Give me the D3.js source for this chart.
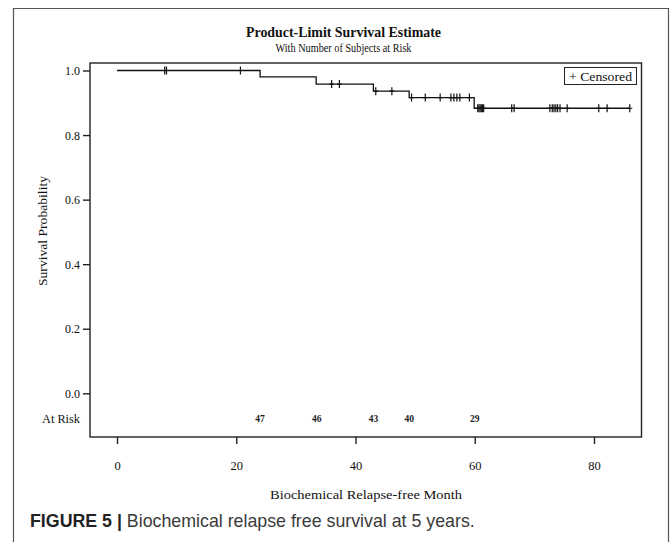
<!DOCTYPE html>
<html>
<head>
<meta charset="utf-8">
<script src="https://cdn.jsdelivr.net/npm/d3@7"></script>
<style>
  body { margin: 0; background: #fff; }
  svg { display: block; }
</style>
</head>
<body>
<div id="chart"></div>
<script>
// Kaplan-Meier steps
const stepTimes = [0, 24.0, 33.4, 43.0, 49.0, 59.9];
const stepSurv = [1.0, 0.980, 0.958, 0.936, 0.916, 0.883];
const lastTime = 86.0;

// censored observations (months)
const censorTimes = [8.0, 8.3, 20.7, 36.0, 37.3, 43.4, 46.1, 49.4, 51.7, 54.2,
  56.0, 56.5, 57.0, 57.5, 59.1, 60.5, 60.7, 60.9, 61.1, 61.3, 61.5,
  66.2, 66.6, 72.6, 73.0, 73.3, 73.6, 73.9, 74.3, 75.5, 80.8, 82.2, 86.0];

// number at risk
const riskTimes = [24, 33.5, 43, 49, 60];
const riskCounts = [47, 46, 43, 40, 29];

const xTicks = [0, 20, 40, 60, 80];
const yTicks = [0, 0.2, 0.4, 0.6, 0.8, 1.0];

const width = 672;
const height = 542;
const serif = '"Liberation Serif", "DejaVu Serif", serif';
const sans = '"Liberation Sans", Arial, sans-serif';

const frame = { l: 90, r: 641.5, t: 63, b: 437 };

const x = d3.scaleLinear().domain([0, 80]).range([117, 594]);
const y = d3.scaleLinear().domain([0, 1]).range([393.3, 70.5]);

const svg = d3.select('#chart').append('svg')
  .attr('width', width)
  .attr('height', height)
  .attr('viewBox', [0, 0, width, height]);

// outer figure border
svg.append('path')
  .attr('d', `M13.5,${height} V8.5 H668.5 V${height}`)
  .attr('fill', 'none')
  .attr('stroke', '#555')
  .attr('stroke-width', 1.2);

// titles (SAS fonts are narrow, so squeeze to the measured widths)
svg.append('text')
  .attr('x', 343.5).attr('y', 37)
  .attr('text-anchor', 'middle')
  .attr('font-family', serif)
  .attr('font-size', 14)
  .attr('font-weight', 'bold')
  .attr('fill', '#111')
  .attr('textLength', 195)
  .attr('lengthAdjust', 'spacingAndGlyphs')
  .text('Product-Limit Survival Estimate');

svg.append('text')
  .attr('x', 343.5).attr('y', 52)
  .attr('text-anchor', 'middle')
  .attr('font-family', serif)
  .attr('font-size', 12.5)
  .attr('fill', '#111')
  .attr('textLength', 136)
  .attr('lengthAdjust', 'spacingAndGlyphs')
  .text('With Number of Subjects at Risk');

// plot frame
svg.append('rect')
  .attr('x', frame.l).attr('y', frame.t)
  .attr('width', frame.r - frame.l)
  .attr('height', frame.b - frame.t)
  .attr('fill', 'none')
  .attr('stroke', '#222')
  .attr('stroke-width', 1.4);

// y axis
const yAxis = d3.axisLeft(y)
  .tickValues(yTicks)
  .tickFormat(d3.format('.1f'))
  .tickSize(7)
  .tickPadding(3);

svg.append('g')
  .attr('transform', `translate(${frame.l},0)`)
  .call(yAxis)
  .call(g => g.select('.domain').remove())
  .call(g => g.selectAll('line').attr('stroke', '#222').attr('stroke-width', 1.4))
  .call(g => g.selectAll('text')
    .attr('font-family', serif)
    .attr('font-size', 12.5)
    .attr('textLength', 15)
    .attr('lengthAdjust', 'spacingAndGlyphs')
    .attr('fill', '#111'));

// x axis
const xAxis = d3.axisBottom(x)
  .tickValues(xTicks)
  .tickSize(7)
  .tickPadding(17);

svg.append('g')
  .attr('transform', `translate(0,${frame.b})`)
  .call(xAxis)
  .call(g => g.select('.domain').remove())
  .call(g => g.selectAll('line').attr('stroke', '#222').attr('stroke-width', 1.4))
  .call(g => g.selectAll('text')
    .attr('font-family', serif)
    .attr('font-size', 12.5)
    .attr('fill', '#111'));

// axis titles
svg.append('text')
  .attr('transform', 'translate(47,231) rotate(-90)')
  .attr('text-anchor', 'middle')
  .attr('font-family', serif)
  .attr('font-size', 13.5)
  .attr('fill', '#111')
  .attr('textLength', 110)
  .attr('lengthAdjust', 'spacingAndGlyphs')
  .text('Survival Probability');

svg.append('text')
  .attr('x', 366).attr('y', 499)
  .attr('text-anchor', 'middle')
  .attr('font-family', serif)
  .attr('font-size', 13.5)
  .attr('fill', '#111')
  .attr('textLength', 192)
  .attr('lengthAdjust', 'spacingAndGlyphs')
  .text('Biochemical Relapse-free Month');

// survival step curve
const curveData = stepTimes.map((t, i) => [t, stepSurv[i]]);
curveData.push([lastTime, stepSurv[stepSurv.length - 1]]);

const line = d3.line()
  .x(d => x(d[0]))
  .y(d => y(d[1]))
  .curve(d3.curveStepAfter);

svg.append('path')
  .datum(curveData)
  .attr('d', line)
  .attr('fill', 'none')
  .attr('stroke', '#111')
  .attr('stroke-width', 1.3);

// censor marks
const bisect = d3.bisector(d => d).right;
const survAt = t => stepSurv[Math.max(0, bisect(stepTimes, t) - 1)];

svg.append('g')
  .selectAll('path')
  .data(censorTimes)
  .join('path')
  .attr('d', t => {
    const cx = x(t), cy = y(survAt(t));
    return `M${cx},${cy - 4}V${cy + 4}M${cx - 2.5},${cy}H${cx + 2.5}`;
  })
  .attr('stroke', '#111')
  .attr('stroke-width', 1.2)
  .attr('fill', 'none');

// legend
const legend = svg.append('g');
legend.append('rect')
  .attr('x', 564.5).attr('y', 67.5)
  .attr('width', 72).attr('height', 17)
  .attr('fill', '#fff')
  .attr('stroke', '#222')
  .attr('stroke-width', 1);
legend.append('text')
  .attr('x', 600.5).attr('y', 80.5)
  .attr('text-anchor', 'middle')
  .attr('font-family', serif)
  .attr('font-size', 13)
  .attr('fill', '#111')
  .attr('textLength', 63)
  .attr('lengthAdjust', 'spacingAndGlyphs')
  .text('+ Censored');

// at risk row
svg.append('text')
  .attr('x', 80).attr('y', 423)
  .attr('text-anchor', 'end')
  .attr('font-family', serif)
  .attr('font-size', 12.5)
  .attr('fill', '#111')
  .attr('textLength', 38)
  .attr('lengthAdjust', 'spacingAndGlyphs')
  .text('At Risk');

svg.append('g')
  .selectAll('text')
  .data(riskTimes)
  .join('text')
  .attr('x', d => x(d))
  .attr('y', 422)
  .attr('text-anchor', 'middle')
  .attr('font-family', serif)
  .attr('font-size', 9.5)
  .attr('font-weight', 'bold')
  .attr('fill', '#222')
  .text((d, i) => riskCounts[i]);

// figure caption
const caption = svg.append('text')
  .attr('x', 30).attr('y', 527)
  .attr('font-family', sans)
  .attr('font-size', 17.8)
  .attr('fill', '#3a3a3a');
caption.append('tspan')
  .attr('font-weight', 'bold')
  .attr('fill', '#222')
  .text('FIGURE 5 | ');
caption.append('tspan')
  .text('Biochemical relapse free survival at 5 years.');
</script>
</body>
</html>
